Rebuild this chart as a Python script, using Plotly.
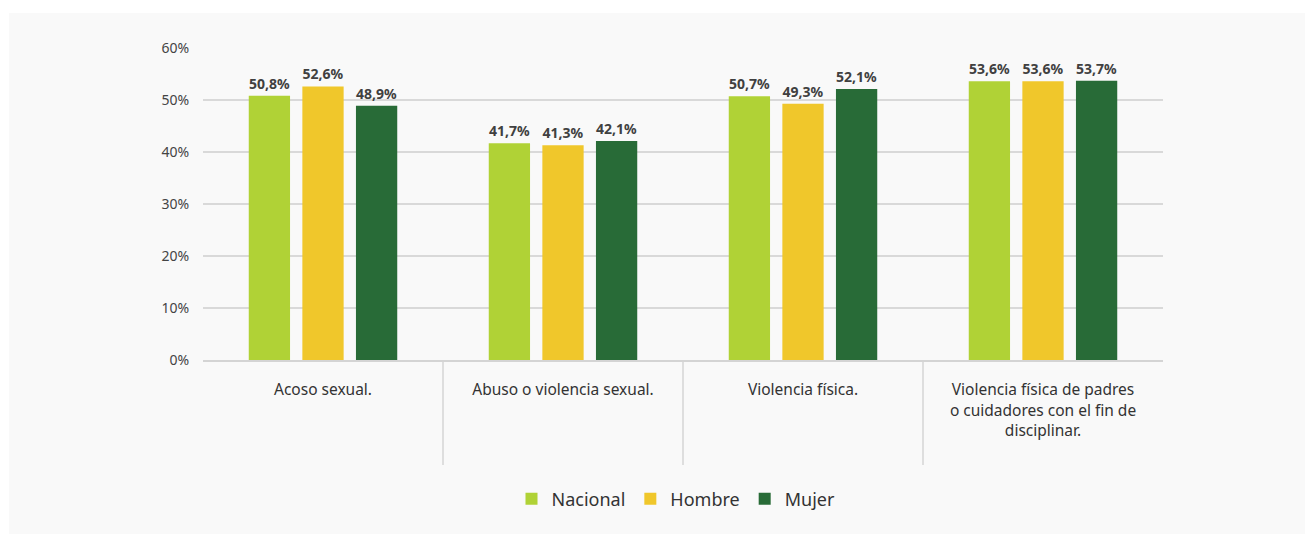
import plotly.graph_objects as go

categories = ["Acoso sexual.", "Abuso o violencia sexual.", "Violencia física.",
              "Violencia física de padres<br>o cuidadores con el fin de<br>disciplinar."]
series_names = ["Nacional", "Hombre", "Mujer"]
nacional = [50.8, 41.7, 50.7, 53.6]
hombre = [52.6, 41.3, 49.3, 53.6]
mujer = [48.9, 42.1, 52.1, 53.7]
y_ticks = [0, 10, 20, 30, 40, 50, 60]

colors = ["#b0d236", "#f0c72b", "#286b37"]
FONT = "Noto Sans, Open Sans, sans-serif"

def fmt(v):
    return f"{v:.1f}".replace(".", ",") + "%"

fig = go.Figure()
for name, vals, col in zip(series_names, [nacional, hombre, mujer], colors):
    fig.add_trace(go.Bar(
        x=categories, y=vals, name=name, marker=dict(color=col, line=dict(width=0)),
        text=[fmt(v) for v in vals], textposition="outside",
        textfont=dict(family=FONT, size=14, color="#404040", weight="bold"),
        cliponaxis=False,
    ))

OFF = 8  # page body margin
W, H = 1315 - OFF, 534 - OFF
L, R, T, B = 203 - OFF, 1163 - OFF, 48 - OFF, 360 - OFF
pw, ph = R - L, B - T

def px(x):
    return (x - OFF - L) / pw

def py(y):
    return (B - (y - OFF)) / ph

shapes = [dict(type="rect", xref="paper", yref="paper", x0=px(9), x1=px(1305), y0=py(540), y1=py(13),
               fillcolor="#f9f9f9", line=dict(width=0), layer="below")]
for i in range(1, len(categories)):
    shapes.append(dict(type="line", xref="x", yref="paper", x0=i - 0.5, x1=i - 0.5,
                       y0=0, y1=py(465), line=dict(color="#d4d4d4", width=1.5)))

fig.update_layout(
    width=W, height=H,
    margin=dict(l=L, r=W - R, t=T, b=H - B, pad=0),
    paper_bgcolor="white", plot_bgcolor="rgba(0,0,0,0)",
    barmode="group", bargap=0.33, bargroupgap=0.23,
    font=dict(family=FONT, color="#333333"),
    shapes=shapes,
    showlegend=True,
    legend=dict(orientation="h", x=px(676), xanchor="center", y=py(499), yanchor="middle",
                font=dict(family=FONT, size=18, color="#333333"), itemwidth=30,
                bgcolor="rgba(0,0,0,0)"),
    xaxis=dict(showgrid=False, showline=True, linecolor="#d4d4d4", linewidth=1.5,
               ticks="outside", ticklen=15, tickcolor="rgba(0,0,0,0)",
               tickfont=dict(family=FONT, size=15.5, color="#333333")),
    yaxis=dict(range=[0, 60], tickvals=y_ticks, ticktext=[f"{v}%" for v in y_ticks],
               showgrid=True, gridcolor="#d9d9d9", gridwidth=1.5, zeroline=False, showline=False,
               ticks="outside", ticklen=10, tickcolor="rgba(0,0,0,0)",
               tickfont=dict(family=FONT, size=14, color="#444444")),
)

fig.write_html("out.html")
